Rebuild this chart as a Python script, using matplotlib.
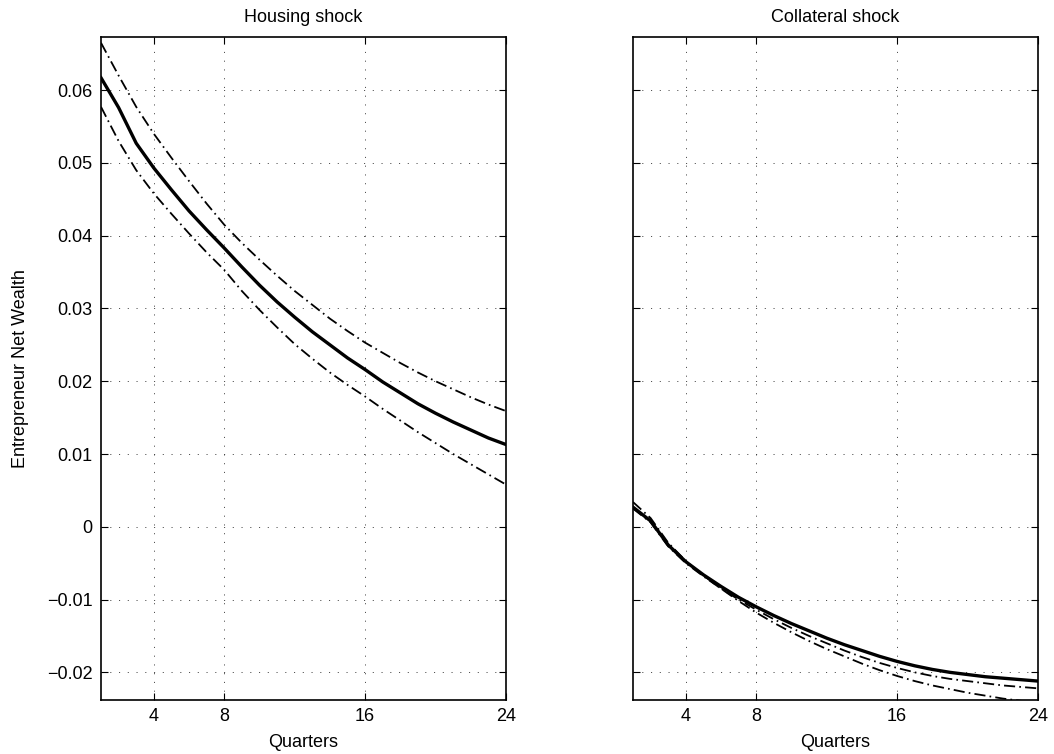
import numpy as np
import matplotlib
matplotlib.use('Agg')
import matplotlib.pyplot as plt

plt.rcParams['font.family'] = ['Liberation Sans', 'DejaVu Sans']
plt.rcParams['lines.scale_dashes'] = False

# Quartale 1..24
quarters = np.arange(1, 25)

# Housing shock
housing_mid = [0.0617, 0.0576, 0.0527, 0.0493, 0.0463, 0.0434, 0.0408, 0.0383,
               0.0357, 0.0332, 0.0309, 0.0288, 0.0268, 0.0250, 0.0232, 0.0216,
               0.0199, 0.0184, 0.0169, 0.0156, 0.0144, 0.0133, 0.0122, 0.0113]
housing_up = [0.0665, 0.0620, 0.0577, 0.0540, 0.0507, 0.0475, 0.0444, 0.0415,
              0.0390, 0.0367, 0.0345, 0.0324, 0.0305, 0.0286, 0.0269, 0.0253,
              0.0239, 0.0225, 0.0212, 0.0200, 0.0189, 0.0178, 0.0168, 0.0159]
housing_lo = [0.0577, 0.0530, 0.0490, 0.0458, 0.0430, 0.0403, 0.0377, 0.0353,
              0.0324, 0.0298, 0.0274, 0.0251, 0.0231, 0.0212, 0.0195, 0.0179,
              0.0162, 0.0146, 0.0130, 0.0115, 0.0100, 0.0086, 0.0072, 0.0058]

# Collateral shock
coll_mid = [0.0027, 0.0008, -0.0025, -0.0048, -0.0066, -0.0082, -0.0097, -0.0110,
            -0.0122, -0.0133, -0.0143, -0.0153, -0.0162, -0.0170, -0.0178, -0.0185,
            -0.0191, -0.0196, -0.0200, -0.0203, -0.0206, -0.0208, -0.0210, -0.0212]
coll_b1 = [0.0025, 0.0006, -0.0027, -0.0050, -0.0068, -0.0085, -0.0100, -0.0114,
           -0.0127, -0.0139, -0.0150, -0.0160, -0.0170, -0.0179, -0.0187, -0.0194,
           -0.0200, -0.0205, -0.0209, -0.0212, -0.0215, -0.0218, -0.0220, -0.0222]
coll_b2 = [0.0034, 0.0012, -0.0022, -0.0047, -0.0067, -0.0085, -0.0102, -0.0118,
           -0.0132, -0.0145, -0.0157, -0.0168, -0.0178, -0.0188, -0.0197, -0.0205,
           -0.0212, -0.0218, -0.0223, -0.0228, -0.0232, -0.0236, -0.0239, -0.0242]

yticks = [-0.02, -0.01, 0, 0.01, 0.02, 0.03, 0.04, 0.05, 0.06]
ytick_labels = ['\u22120.02', '\u22120.01', '0', '0.01', '0.02', '0.03', '0.04', '0.05', '0.06']
xticks = [4, 8, 16, 24]

fig = plt.figure(figsize=(10.54, 7.54), dpi=100)
ax1 = fig.add_axes([101/1054, 54/754, 405/1054, 663/754])
ax2 = fig.add_axes([633/1054, 54/754, 405/1054, 663/754])

panels = [(ax1, 'Housing shock', housing_mid, housing_up, housing_lo),
          (ax2, 'Collateral shock', coll_mid, coll_b1, coll_b2)]

for ax, titel, mid, b1, b2 in panels:
    ax.plot(quarters, b1, color='black', lw=1.3, linestyle=(0, (8, 3, 1.2, 3)))
    ax.plot(quarters, b2, color='black', lw=1.3, linestyle=(0, (8, 3, 1.2, 3)))
    ax.plot(quarters, mid, color='black', lw=2.4)
    ax.set_xlim(1, 24)
    ax.set_ylim(-0.0238, 0.0673)
    ax.set_xticks(xticks)
    ax.set_xticklabels([str(t) for t in xticks])
    ax.set_yticks(yticks)
    ax.grid(True, color='#333333', lw=0.6, linestyle=(0, (0.8, 5.5)))
    ax.tick_params(direction='in', top=True, right=True, length=5, width=0.8,
                   labelsize=13, pad=6)
    for s in ax.spines.values():
        s.set_linewidth(1.2)
    ax.set_title(titel, fontsize=13, pad=10.5)
    ax.set_xlabel('Quarters', fontsize=13, labelpad=6)

ax1.set_yticklabels(ytick_labels)
ax2.set_yticklabels([])
ax1.set_ylabel('Entrepreneur Net Wealth', fontsize=13, labelpad=13)

plt.savefig('out.png', dpi=100)
